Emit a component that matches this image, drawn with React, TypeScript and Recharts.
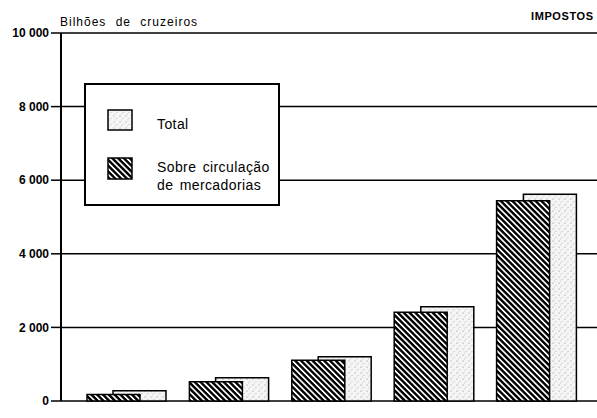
import React from 'react';
import { BarChart, Bar, XAxis, YAxis, CartesianGrid, Legend } from 'recharts';

const years = ['1979', '1980', '1981', '1982', '1983'];
const totalValues = [280, 630, 1200, 2560, 5620];
const mercadoriasValues = [180, 525, 1110, 2410, 5440];
const yTicks = [0, 2000, 4000, 6000, 8000, 10000];
const totalName = 'Total';
const mercadoriasName = 'Sobre circulação de mercadorias';
const unitLabel = 'Bilhões de cruzeiros';
const titleLabel = 'IMPOSTOS';
const legendOrder = ['total', 'mercadorias'];

const data = years.map((year, i) => ({
  year,
  total: totalValues[i],
  mercadorias: mercadoriasValues[i],
}));

const FONT = '"Liberation Sans", Arial, Helvetica, sans-serif';

const fmt = (v: number) =>
  v >= 1000 ? `${Math.floor(v / 1000)} ${String(v % 1000).padStart(3, '0')}` : String(v);

const Patterns = () => (
  <svg width={0} height={0} style={{ position: 'absolute' }}>
    <defs>
      <pattern id="hatch" patternUnits="userSpaceOnUse" width={8} height={4.1} patternTransform="rotate(45)">
        <rect x={0} y={0} width={8} height={4.1} fill="#fff" />
        <rect x={0} y={0} width={8} height={2.4} fill="#000" />
      </pattern>
      <pattern id="dots" patternUnits="userSpaceOnUse" width={6} height={6}>
        <rect x={0} y={0} width={6} height={6} fill="#f5f5f5" />
        <circle cx={1} cy={1} r={0.6} fill="#888" />
        <circle cx={4} cy={3.5} r={0.5} fill="#aaa" />
        <circle cx={2.5} cy={5} r={0.4} fill="#999" />
      </pattern>
    </defs>
  </svg>
);

const Swatch = ({ fill, h }: { fill: string; h: number }) => (
  <svg width={26} height={h + 2} style={{ display: 'block' }}>
    <rect x={1} y={1} width={24} height={h} fill={fill} stroke="#000" strokeWidth={1.5} />
  </svg>
);

const legendLayout: Record<string, { swatchTop: number; swatchH: number; textTop: number }> = {
  total: { swatchTop: 24, swatchH: 20, textTop: 30 },
  mercadorias: { swatchTop: 72, swatchH: 21, textTop: 73 },
};

const LegendBox = ({ payload }: any) => {
  const items = [...(payload || [])].sort(
    (a: any, b: any) => legendOrder.indexOf(a.dataKey) - legendOrder.indexOf(b.dataKey)
  );
  return (
    <div
      style={{
        position: 'relative',
        width: 192,
        height: 119,
        border: '2px solid #000',
        background: '#fff',
        fontFamily: FONT,
        fontSize: 14,
        color: '#000',
      }}
    >
      {items.map((entry: any) => {
        const l = legendLayout[entry.dataKey];
        return (
          <React.Fragment key={entry.value}>
            <div style={{ position: 'absolute', left: 21, top: l.swatchTop }}>
              <Swatch fill={entry.dataKey === 'total' ? 'url(#dots)' : 'url(#hatch)'} h={l.swatchH} />
            </div>
            <div
              style={{
                position: 'absolute',
                left: 71,
                top: l.textTop,
                width: 118,
                lineHeight: '18px',
                letterSpacing: 0.4,
                wordSpacing: 2,
              }}
            >
              {entry.value}
            </div>
          </React.Fragment>
        );
      })}
    </div>
  );
};

export default function App() {
  return (
    <div
      style={{
        position: 'absolute',
        left: 0,
        top: 0,
        width: 597,
        height: 418,
        overflow: 'hidden',
        background: '#fff',
        fontFamily: FONT,
      }}
    >
      <Patterns />
      <div
        style={{
          position: 'absolute',
          left: 60,
          top: 16,
          fontSize: 12,
          lineHeight: '12px',
          letterSpacing: 1,
          wordSpacing: 5,
          whiteSpace: 'nowrap',
        }}
      >
        {unitLabel}
      </div>
      <div
        style={{
          position: 'absolute',
          left: 531,
          top: 11,
          fontSize: 11,
          lineHeight: '11px',
          fontWeight: 'bold',
          letterSpacing: 0.6,
          whiteSpace: 'nowrap',
        }}
      >
        {titleLabel}
      </div>
      <BarChart
        width={610}
        height={418}
        data={data}
        margin={{ top: 33, right: 0, bottom: 0, left: 0 }}
        style={{ position: 'absolute', left: 0, top: 0 }}
      >
        <CartesianGrid vertical={false} stroke="#000" strokeWidth={1.5} xAxisId="lab" />
        <XAxis
          xAxisId="lab"
          dataKey="year"
          height={17}
          padding={{ left: 14, right: 22 }}
          axisLine={false}
          tickLine={false}
          tickSize={0}
          tickMargin={4}
          interval={0}
          tick={{ fill: '#000', fontSize: 11.5, fontFamily: FONT }}
        />
        <XAxis xAxisId="h" dataKey="year" hide padding={{ left: 1, right: 36 }} />
        <XAxis xAxisId="t" dataKey="year" hide padding={{ left: 27, right: 9 }} />
        <YAxis
          width={61}
          domain={[0, 10000]}
          ticks={yTicks}
          interval={0}
          tickFormatter={fmt}
          axisLine={{ stroke: '#000', strokeWidth: 2 }}
          tickLine={{ stroke: '#000', strokeWidth: 1.5 }}
          tickSize={10}
          tickMargin={2}
          tick={{ fill: '#000', fontSize: 12, fontWeight: 'bold', fontFamily: FONT }}
        />
        <Legend
          layout="vertical"
          align="center"
          verticalAlign="middle"
          content={<LegendBox />}
          wrapperStyle={{ left: 84, top: 83, width: 196, height: 123 }}
        />
        <Bar
          xAxisId="t"
          dataKey="total"
          name={totalName}
          barSize={53}
          fill="url(#dots)"
          stroke="#000"
          strokeWidth={1.5}
          isAnimationActive={false}
        />
        <Bar
          xAxisId="h"
          dataKey="mercadorias"
          name={mercadoriasName}
          barSize={53}
          fill="url(#hatch)"
          stroke="#000"
          strokeWidth={1.5}
          isAnimationActive={false}
        />
      </BarChart>
    </div>
  );
}
